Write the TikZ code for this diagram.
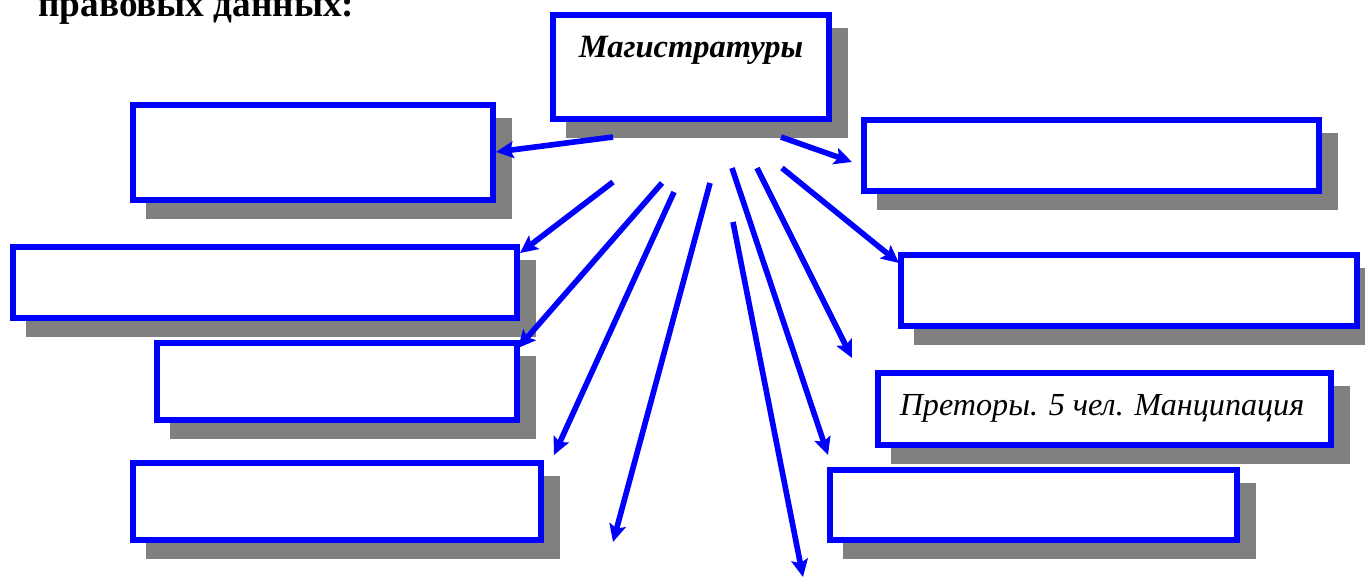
\documentclass[tikz,border=0pt]{standalone}
\usepackage{fontspec}
\setmainfont{Liberation Serif}
\usetikzlibrary{arrows.meta}
\definecolor{shgray}{RGB}{128,128,128}
\definecolor{bblue}{RGB}{0,0,255}
\tikzset{
  bluebox/.style={draw=bblue, fill=white, line width=3.4pt, inner sep=0pt},
  arr/.style={draw=bblue, line width=3.2pt, -{Stealth[length=10pt,width=9.5pt,inset=2pt]}},
  shadowfill/.style={fill=shgray}
}
\newcommand\mkbox[6]{%
  \fill[shadowfill] (#2+16,#3+16) rectangle (#4+16,#5+16);
  \node[bluebox, minimum width={(#4-#2-6)*0.02cm}, minimum height={(#5-#3-6)*0.02cm}] (#1) at ({(#2+#4)/2},{(#3+#5)/2}) {#6};
}
\begin{document}
\begin{tikzpicture}[x=0.02cm,y=-0.02cm]
\useasboundingbox (0,0) rectangle (1365,576);
\node[anchor=base west, font=\bfseries\fontsize{21.2}{25}\selectfont, inner sep=0pt] (title) at (38,16) {правовых данных:};
\mkbox{b1}{550}{12}{832}{122}{}
\mkbox{b2}{130}{102}{496}{203}{}
\mkbox{b3}{861}{117}{1322}{194}{}
\mkbox{b4}{10}{244}{520}{321}{}
\mkbox{b5}{898}{252}{1360}{329}{}
\mkbox{b6}{154}{340}{520}{423}{}
\mkbox{b7}{875}{370}{1334}{448}{}
\mkbox{b8}{130}{460}{544}{543}{}
\mkbox{b9}{827}{467}{1240}{543}{}
\node[anchor=base, font=\bfseries\itshape\fontsize{18.5}{22}\selectfont, inner sep=0pt] (t1) at (691,57) {Магистратуры};
\node[anchor=base, font=\itshape\fontsize{18.3}{22}\selectfont, inner sep=0pt] (t7) at (1102,415) {Преторы. 5 чел. Манципация};
% start and end coordinates
\coordinate (s1) at (613,137);
\coordinate (s2) at (781,137);  \coordinate (e2) at (852,162);
\coordinate (s3) at (613,182);  \coordinate (e3) at (520,253);
\coordinate (s4) at (662,183);  \coordinate (e4) at (518,348);
\coordinate (s5) at (674,192);  \coordinate (e5) at (554,455);
\coordinate (s6) at (710,183);  \coordinate (e6) at (613,542);
\coordinate (s7) at (733,222);  \coordinate (e7) at (803,577);
\coordinate (s8) at (732,168);  \coordinate (e8) at (828,455);
\coordinate (s9) at (757,168);  \coordinate (e9) at (852,358);
\coordinate (s10) at (782,168); \coordinate (e10) at (899,263);
\draw[arr] (s1) -- (b2.east |- 0,152);
\draw[arr] (s2) -- (e2);
\draw[arr] (s3) -- (e3);
\draw[arr] (s4) -- (e4);
\draw[arr] (s5) -- (e5);
\draw[arr] (s6) -- (e6);
\draw[arr] (s7) -- (e7);
\draw[arr] (s8) -- (e8);
\draw[arr] (s9) -- (e9);
\draw[arr] (s10) -- (e10);
\end{tikzpicture}
\end{document}
